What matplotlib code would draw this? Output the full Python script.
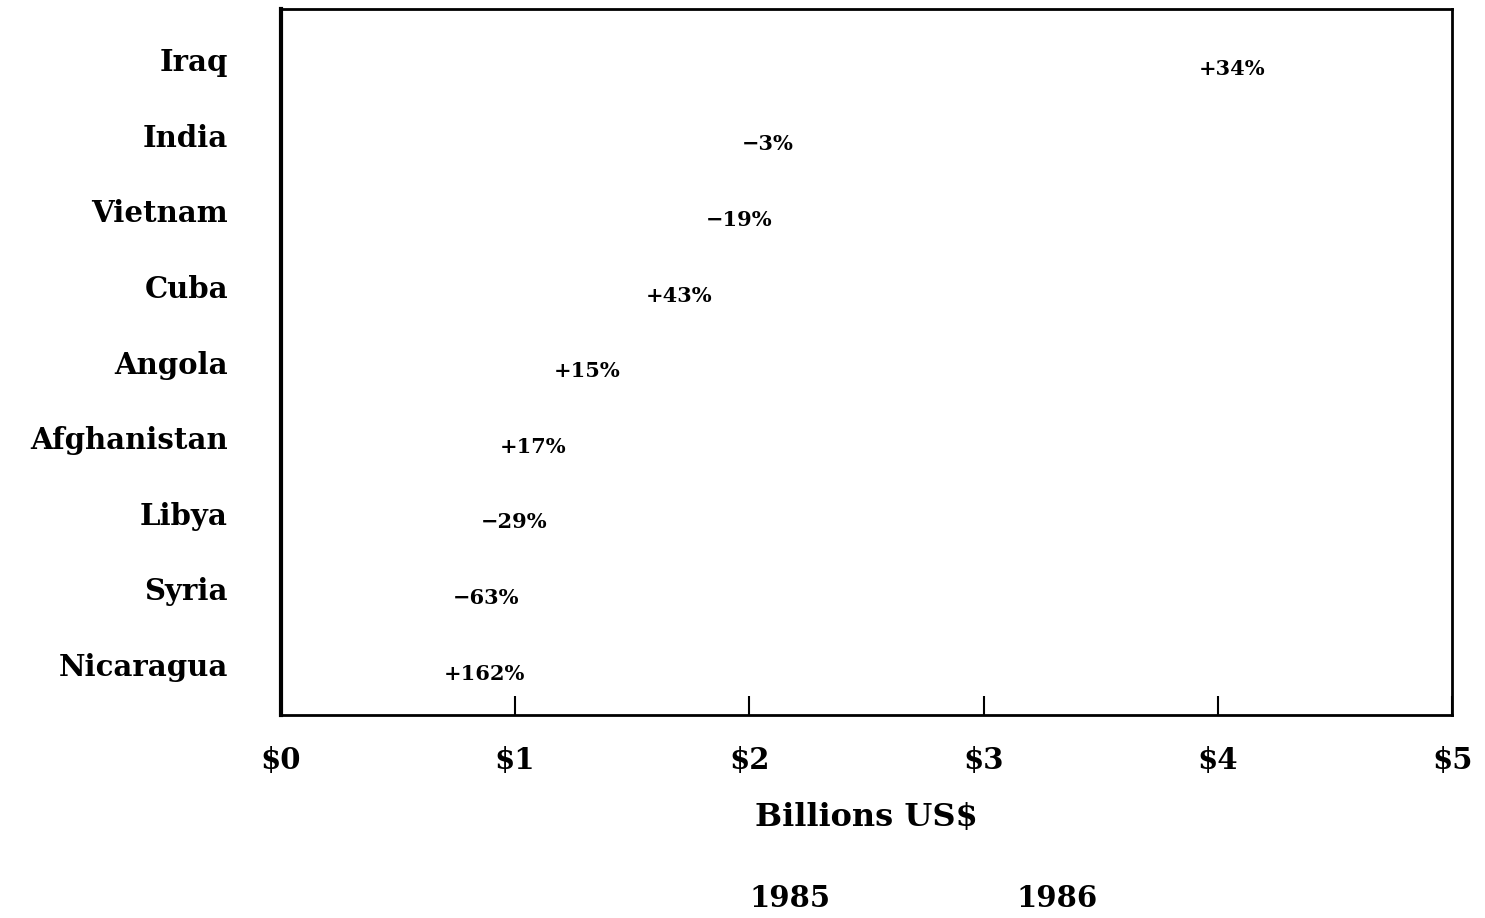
import matplotlib
matplotlib.use("Agg")
import matplotlib.pyplot as plt
import numpy as np

countries = ["Iraq", "India", "Vietnam", "Cuba", "Angola", "Afghanistan", "Libya", "Syria", "Nicaragua"]
values_1986 = [3.75, 1.80, 1.65, 1.39, 1.00, 0.77, 0.69, 0.57, 0.53]
values_1985 = [2.80, 1.86, 2.04, 0.97, 0.87, 0.66, 0.97, 1.54, 0.20]
pct_labels = ["+34%", "\u22123%", "\u221219%", "+43%", "+15%", "+17%", "\u221229%", "\u221263%", "+162%"]
series_names = ["1985", "1986"]
xtick_vals = [0, 1, 2, 3, 4, 5]
xtick_labels = ["$0", "$1", "$2", "$3", "$4", "$5"]

plt.rcParams["font.family"] = ["DejaVu Serif"]

fig = plt.figure(figsize=(14.85, 9.18), dpi=100)
ax = fig.add_axes([0.189, 0.221, 0.789, 0.769])

y = np.arange(len(countries))
h = 0.3
# bars printed in a pattern that has faded to white in the scan
c85 = "#ffffff"
c86 = "#ffffff"
ax.barh(y - h / 2, values_1985, height=h, color=c85, edgecolor="none")
ax.barh(y + h / 2, values_1986, height=h, color=c86, edgecolor="none")

for yi, v, lab in zip(y, values_1986, pct_labels):
    ax.annotate(lab, xy=(v, yi + 0.12), xytext=(28, 0), textcoords="offset points",
                ha="left", va="center", fontsize=15, fontweight="bold")

ax.set_xlim(0, 5)
ax.set_ylim(len(countries) - 1 + 0.67, -0.67)
ax.set_yticks(y)
ax.set_yticklabels(countries, fontsize=21, fontweight="bold")
ax.tick_params(axis="y", length=0, pad=38)
ax.set_xticks(xtick_vals)
ax.set_xticklabels(xtick_labels, fontsize=21, fontweight="bold")
ax.tick_params(axis="x", direction="in", length=14, width=1.5, pad=22, top=False)
for s in ax.spines.values():
    s.set_linewidth(2)
ax.spines["left"].set_linewidth(3)
ax.set_xlabel("Billions US$", fontsize=23, fontweight="bold", labelpad=20)

for name, xpos in zip(series_names, [0.532, 0.712]):
    fig.text(xpos, 0.021, name, ha="center", va="center", fontsize=21, fontweight="bold")

fig.savefig("out.png", dpi=100, facecolor="white")
